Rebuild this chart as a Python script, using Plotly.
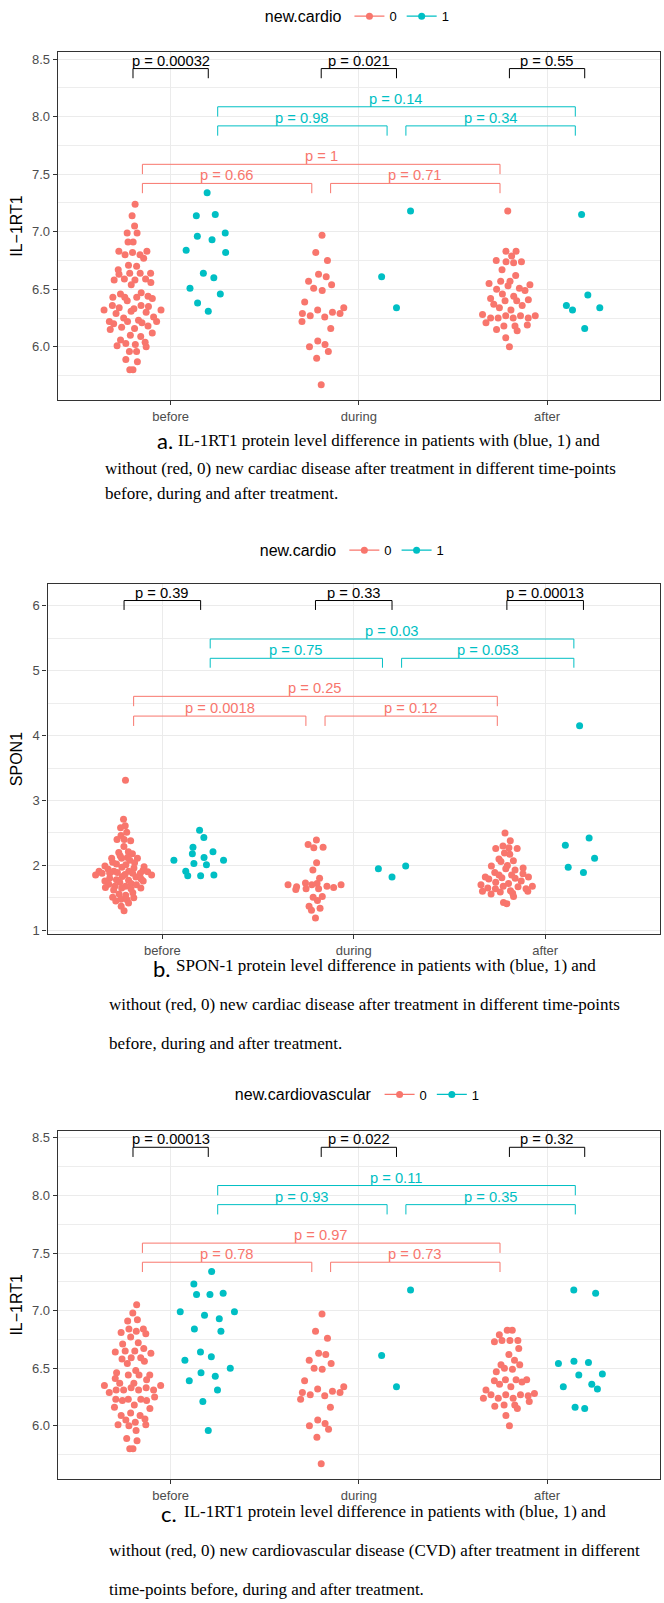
import numpy as np
import plotly.graph_objects as go

# ---------------- data ----------------
CATEGORIES = ["before", "during", "after"]
GROUP_NAMES = ["0", "1"]

# Panel a: IL-1RT1 by new.cardio
a_before_0 = [7.24, 7.14, 7.05, 6.99, 6.99, 6.91, 6.91, 6.83, 6.83, 6.82, 6.80, 6.80, 6.77, 6.71, 6.70,
              6.67, 6.64, 6.64, 6.64, 6.63, 6.59, 6.59, 6.58, 6.58, 6.56, 6.54, 6.47, 6.46, 6.44, 6.43,
              6.43, 6.43, 6.42, 6.40, 6.36, 6.36, 6.35, 6.34, 6.33, 6.32, 6.32, 6.31, 6.30, 6.29, 6.26,
              6.25, 6.23, 6.22, 6.22, 6.22, 6.21, 6.20, 6.18, 6.17, 6.16, 6.15, 6.12, 6.10, 6.09, 6.06,
              6.04, 6.03, 6.02, 6.01, 6.00, 5.96, 5.96, 5.89, 5.87, 5.80, 5.80]
a_before_1 = [7.34, 7.15, 7.14, 6.99, 6.96, 6.93, 6.84, 6.82, 6.64, 6.60, 6.51, 6.46, 6.38, 6.31]
a_during_0 = [6.97, 6.82, 6.75, 6.63, 6.61, 6.57, 6.54, 6.51, 6.49, 6.39, 6.34, 6.32, 6.30, 6.29, 6.29,
              6.27, 6.26, 6.22, 6.16, 6.05, 6.02, 6.00, 5.96, 5.90, 5.67]
a_during_1 = [7.18, 6.61, 6.34]
a_after_0 = [7.18, 6.83, 6.83, 6.79, 6.75, 6.74, 6.74, 6.73, 6.67, 6.62, 6.57, 6.57, 6.55, 6.54, 6.53,
             6.51, 6.50, 6.49, 6.46, 6.44, 6.42, 6.41, 6.40, 6.40, 6.37, 6.36, 6.34, 6.32, 6.28, 6.27,
             6.27, 6.27, 6.25, 6.25, 6.25, 6.25, 6.21, 6.19, 6.18, 6.18, 6.15, 6.14, 6.08, 6.00]
a_after_1 = [7.15, 6.45, 6.36, 6.34, 6.32, 6.16]

# Panel b: SPON1 by new.cardio
b_before_0 = [3.31, 2.71, 2.61, 2.58, 2.51, 2.46, 2.40, 2.40, 2.38, 2.29, 2.21, 2.20, 2.18, 2.15, 2.12,
              2.11, 2.11, 2.11, 2.08, 2.05, 2.04, 2.02, 2.01, 1.99, 1.98, 1.97, 1.96, 1.94, 1.92, 1.91,
              1.91, 1.91, 1.90, 1.89, 1.88, 1.88, 1.88, 1.88, 1.86, 1.85, 1.85, 1.83, 1.82, 1.80, 1.79,
              1.78, 1.77, 1.76, 1.76, 1.74, 1.72, 1.71, 1.70, 1.68, 1.68, 1.66, 1.65, 1.65, 1.64, 1.62,
              1.58, 1.56, 1.54, 1.51, 1.50, 1.48, 1.47, 1.45, 1.42, 1.37, 1.30]
b_before_1 = [2.54, 2.43, 2.28, 2.21, 2.18, 2.12, 2.08, 2.08, 2.03, 2.01, 1.91, 1.85, 1.84, 1.84]
b_during_0 = [2.39, 2.32, 2.28, 2.27, 2.04, 1.93, 1.80, 1.73, 1.72, 1.70, 1.70, 1.70, 1.68, 1.67, 1.66,
              1.64, 1.64, 1.63, 1.52, 1.51, 1.46, 1.37, 1.34, 1.31, 1.19]
b_during_1 = [1.99, 1.95, 1.82]
b_after_0 = [2.50, 2.38, 2.30, 2.27, 2.26, 2.26, 2.19, 2.17, 2.10, 2.07, 2.06, 2.00, 1.99, 1.96, 1.95,
             1.93, 1.89, 1.87, 1.85, 1.85, 1.82, 1.82, 1.81, 1.80, 1.79, 1.76, 1.74, 1.72, 1.70, 1.68,
             1.68, 1.67, 1.65, 1.64, 1.64, 1.61, 1.60, 1.60, 1.59, 1.57, 1.56, 1.52, 1.43, 1.41]
b_after_1 = [4.15, 2.42, 2.31, 2.11, 1.97, 1.89]

# Panel c: IL-1RT1 by new.cardiovascular
c_before_0 = [7.05, 6.98, 6.92, 6.91, 6.84, 6.84, 6.82, 6.81, 6.80, 6.77, 6.72, 6.71, 6.67, 6.65, 6.65,
              6.64, 6.63, 6.59, 6.59, 6.58, 6.56, 6.54, 6.48, 6.46, 6.44, 6.44, 6.44, 6.41, 6.40, 6.37,
              6.37, 6.35, 6.35, 6.33, 6.33, 6.31, 6.31, 6.31, 6.31, 6.29, 6.25, 6.23, 6.23, 6.23, 6.22,
              6.22, 6.18, 6.16, 6.15, 6.11, 6.09, 6.09, 6.06, 6.05, 6.03, 6.01, 6.01, 6.00, 5.96, 5.89,
              5.87, 5.80, 5.80]
c_before_1 = [7.34, 7.23, 7.15, 7.14, 7.14, 6.99, 6.99, 6.96, 6.93, 6.84, 6.82, 6.64, 6.60, 6.57, 6.50,
              6.46, 6.43, 6.39, 6.31, 6.21, 5.96]
c_during_0 = [6.97, 6.82, 6.76, 6.63, 6.62, 6.57, 6.54, 6.50, 6.49, 6.39, 6.34, 6.32, 6.30, 6.29, 6.29,
              6.27, 6.26, 6.23, 6.16, 6.05, 6.02, 6.00, 5.97, 5.90, 5.67]
c_during_1 = [7.18, 6.61, 6.34]
c_after_0 = [6.83, 6.83, 6.79, 6.74, 6.74, 6.74, 6.73, 6.67, 6.62, 6.57, 6.53, 6.53, 6.50, 6.49, 6.47,
             6.40, 6.40, 6.40, 6.39, 6.38, 6.36, 6.34, 6.31, 6.28, 6.27, 6.27, 6.27, 6.26, 6.24, 6.24,
             6.24, 6.21, 6.18, 6.18, 6.17, 6.15, 6.09, 6.00]
c_after_1 = [7.18, 7.15, 6.56, 6.55, 6.54, 6.45, 6.44, 6.36, 6.34, 6.32, 6.16, 6.15]

# p-values: between groups at each time point; within group: before-during, during-after, before-after
a_p_between = ["p = 0.00032", "p = 0.021", "p = 0.55"]
a_p_group0 = ["p = 0.66", "p = 0.71", "p = 1"]
a_p_group1 = ["p = 0.98", "p = 0.34", "p = 0.14"]
b_p_between = ["p = 0.39", "p = 0.33", "p = 0.00013"]
b_p_group0 = ["p = 0.0018", "p = 0.12", "p = 0.25"]
b_p_group1 = ["p = 0.75", "p = 0.053", "p = 0.03"]
c_p_between = ["p = 0.00013", "p = 0.022", "p = 0.32"]
c_p_group0 = ["p = 0.78", "p = 0.73", "p = 0.97"]
c_p_group1 = ["p = 0.93", "p = 0.35", "p = 0.11"]

# ---------------- styling / layout config ----------------
W, H = 664, 1603
RED, CYAN = "#F8766D", "#00BFC4"
GROUP_COLORS = [RED, CYAN]
SANS = "Liberation Sans, Arial, sans-serif"
SERIF = "Liberation Serif, Times New Roman, serif"
DODGE = 0.2
SWARM_W = 0.16
SHORTEN = 0.05


def vdc(n, base=2):
    out = []
    for i in range(1, n + 1):
        v, denom, k = 0.0, 1.0, i
        while k:
            denom *= base
            k, rem = divmod(k, base)
            v += rem / denom
        out.append(v)
    return np.array(out)


def quasirandom(y, width):
    y = np.asarray(y, float)
    n = len(y)
    if n < 2:
        return np.zeros(n)
    sd = y.std(ddof=1)
    q75, q25 = np.percentile(y, [75, 25])
    iqr = q75 - q25
    lo = min(sd, iqr / 1.34) if iqr > 0 else sd
    bw = 0.9 * lo * n ** -0.2 * 0.5
    grid = np.linspace(y.min() - 3 * bw, y.max() + 3 * bw, 512)

    def dens(t):
        return np.exp(-0.5 * ((t[:, None] - y[None, :]) / bw) ** 2).sum(1)

    dy = dens(y) / dens(grid).max()
    ranks = np.argsort(np.argsort(y, kind="stable"), kind="stable")
    return (vdc(n)[ranks] - 0.5) * 2 * dy * width


panels = [
    dict(data=[[a_before_0, a_during_0, a_after_0], [a_before_1, a_during_1, a_after_1]],
         p=(a_p_between, a_p_group0, a_p_group1), ytitle="IL\u22121RT1", legend_title="new.cardio",
         px_x=(57.7, 660), px_y=(52, 400), yrange=(5.538, 8.562), dtick=0.5, tick0=6.0, fmt=".1f",
         lev=dict(between=(8.418, 0.084), g1=(8.086, 7.920, 0.085), g0=(7.586, 7.420, 0.085)),
         legend_y=16.7, cap_y=(441, 468, 494), cap_x=(155, 176, 103), cap_letter="a.", letter_dy=0,
         caption=["IL-1RT1 protein level difference in patients with (blue, 1) and",
                  "without (red, 0) new cardiac disease after treatment in different time-points",
                  "before, during and after treatment."]),
    dict(data=[[b_before_0, b_during_0, b_after_0], [b_before_1, b_during_1, b_after_1]],
         p=(b_p_between, b_p_group0, b_p_group1), ytitle="SPON1", legend_title="new.cardio",
         px_x=(47.5, 660), px_y=(584.3, 933.8), yrange=(0.946, 6.33), dtick=1, tick0=1, fmt="d",
         lev=dict(between=(6.08, 0.145), g1=(5.487, 5.19, 0.145), g0=(4.604, 4.30, 0.152)),
         legend_y=550.7, cap_y=(966, 1004, 1043), cap_x=(151, 174, 107), cap_letter="b.", letter_dy=3,
         caption=["SPON-1 protein level difference in patients with (blue, 1) and",
                  "without (red, 0) new cardiac disease after treatment in different time-points",
                  "before, during and after treatment."]),
    dict(data=[[c_before_0, c_during_0, c_after_0], [c_before_1, c_during_1, c_after_1]],
         p=(c_p_between, c_p_group0, c_p_group1), ytitle="IL\u22121RT1", legend_title="new.cardiovascular",
         px_x=(57.7, 660), px_y=(1130.7, 1479), yrange=(5.538, 8.562), dtick=0.5, tick0=6.0, fmt=".1f",
         lev=dict(between=(8.418, 0.084), g1=(8.086, 7.920, 0.085), g0=(7.586, 7.420, 0.085)),
         legend_y=1095, cap_y=(1511, 1550, 1589), cap_x=(159, 182, 107), cap_letter="c.", letter_dy=2,
         caption=["IL-1RT1 protein level difference in patients with (blue, 1) and",
                  "without (red, 0) new cardiovascular disease (CVD) after treatment in different",
                  "time-points before, during and after treatment."]),
]

fig = go.Figure()
annotations = []
layout_axes = {}

for k, pn in enumerate(panels):
    sfx = "" if k == 0 else str(k + 1)
    xref, yref = "x" + sfx, "y" + sfx
    legname = "legend" + sfx

    # points
    for g, color in enumerate(GROUP_COLORS):
        xs, ys = [], []
        for ci, vals in enumerate(pn["data"][g]):
            center = ci + 1 + (-DODGE if g == 0 else DODGE)
            offs = quasirandom(vals, SWARM_W)
            xs.extend(center + offs)
            ys.extend(vals)
        fig.add_trace(go.Scatter(x=xs, y=ys, mode="markers", xaxis=xref, yaxis=yref,
                                 marker=dict(color=color, size=7, line=dict(width=0)),
                                 showlegend=False, hoverinfo="y"))
        # legend key (point + line)
        fig.add_trace(go.Scatter(x=[None], y=[None], mode="lines+markers", xaxis=xref, yaxis=yref,
                                 marker=dict(color=color, size=7), line=dict(color=color, width=1.2),
                                 name=GROUP_NAMES[g], legend=legname, showlegend=True))

    def bracket(x1, x2, y, tip, color, label):
        fig.add_trace(go.Scatter(x=[x1, x1, x2, x2], y=[y - tip, y, y, y - tip], mode="lines",
                                 xaxis=xref, yaxis=yref, line=dict(color=color, width=1),
                                 showlegend=False, hoverinfo="skip"))
        annotations.append(dict(x=(x1 + x2) / 2, y=y, xref=xref, yref=yref, text=label,
                                showarrow=False, yanchor="bottom", xanchor="center", yshift=-2,
                                font=dict(family=SANS, size=14.7, color=color)))

    p_between, p_g0, p_g1 = pn["p"]
    by, btip = pn["lev"]["between"]
    for ci in range(3):
        bracket(ci + 1 - DODGE, ci + 1 + DODGE, by, btip, "#000000", p_between[ci])
    for g, color, plist in ((1, CYAN, p_g1), (0, RED, p_g0)):
        outer, inner, tip = pn["lev"]["g%d" % g]
        d = DODGE if g == 1 else -DODGE
        pairs = [(1, 2, inner), (2, 3, inner), (1, 3, outer)]
        for (i, j, yy), lab in zip(pairs, plist):
            bracket(i + d + SHORTEN, j + d - SHORTEN, yy, tip, color, lab)

    # axes
    x0p, x1p = pn["px_x"]
    y0p, y1p = pn["px_y"]
    layout_axes["xaxis" + sfx] = dict(
        domain=[x0p / W, x1p / W], anchor=yref, range=[0.4, 3.6],
        tickvals=[1, 2, 3], ticktext=CATEGORIES, ticks="outside", ticklen=4, tickwidth=1,
        tickcolor="#333333", tickfont=dict(family=SANS, size=13, color="#4D4D4D"),
        showgrid=True, gridcolor="#EBEBEB", gridwidth=1.1, zeroline=False,
        showline=True, mirror=True, linecolor="#333333", linewidth=1.2, automargin=False)
    layout_axes["yaxis" + sfx] = dict(
        domain=[1 - y1p / H, 1 - y0p / H], anchor=xref, range=list(pn["yrange"]),
        dtick=pn["dtick"], tick0=pn["tick0"], tickformat=pn["fmt"], ticks="outside", ticklen=4,
        tickwidth=1, tickcolor="#333333", tickfont=dict(family=SANS, size=13, color="#4D4D4D"),
        showgrid=True, gridcolor="#EBEBEB", gridwidth=1.1, zeroline=False,
        minor=dict(dtick=pn["dtick"] / 2, tick0=pn["tick0"], showgrid=True, gridcolor="#EDEDED",
                   gridwidth=0.8),
        showline=True, mirror=True, linecolor="#333333", linewidth=1.2, automargin=False,
        title=dict(text=pn["ytitle"], standoff=5, font=dict(family=SANS, size=16, color="#000000")))

    layout_axes[legname] = dict(
        orientation="h", x=(x0p + x1p) / 2 / W, xanchor="center", y=1 - pn["legend_y"] / H,
        yanchor="middle", bgcolor="rgba(0,0,0,0)",
        title=dict(text=pn["legend_title"], side="left", font=dict(family=SANS, size=16, color="#000000")),
        font=dict(family=SANS, size=13, color="#000000"), itemwidth=30, tracegroupgap=0)

    # caption
    lx, tx, l2x = pn["cap_x"]
    cy = pn["cap_y"]
    annotations.append(dict(x=lx / W, y=1 - (cy[0] + pn["letter_dy"]) / H, xref="paper", yref="paper",
                            text=pn["cap_letter"], showarrow=False, xanchor="left", yanchor="middle",
                            font=dict(family="Lato, Carlito, sans-serif", size=22, color="#000000")))
    annotations.append(dict(x=tx / W, y=1 - cy[0] / H, xref="paper", yref="paper", text=pn["caption"][0],
                            showarrow=False, xanchor="left", yanchor="middle",
                            font=dict(family=SERIF, size=17, color="#000000")))
    for line, yy in zip(pn["caption"][1:], cy[1:]):
        annotations.append(dict(x=l2x / W, y=1 - yy / H, xref="paper", yref="paper", text=line,
                                showarrow=False, xanchor="left", yanchor="middle",
                                font=dict(family=SERIF, size=17, color="#000000")))

fig.update_layout(
    template="none", width=W, height=H, margin=dict(l=0, r=0, t=0, b=0),
    paper_bgcolor="white", plot_bgcolor="white", annotations=annotations,
    font=dict(family=SANS), **layout_axes)

fig.write_html("out.html", config={"displayModeBar": False},
               post_script="document.body.style.margin='0px';")
